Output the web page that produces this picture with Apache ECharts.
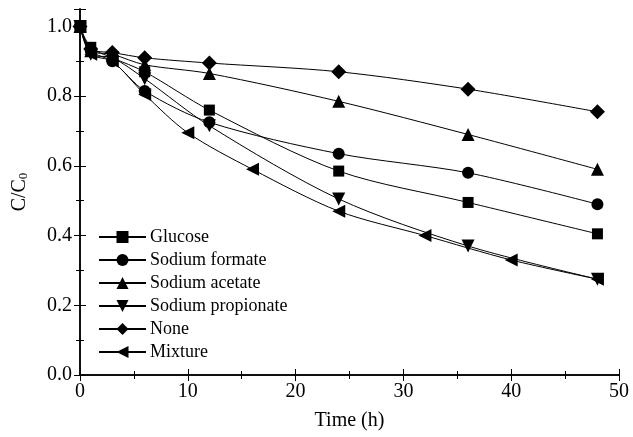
<!DOCTYPE html>
<html><head><meta charset="utf-8">
<script src="https://cdn.jsdelivr.net/npm/echarts@6/dist/echarts.min.js"></script>
<style>html,body{margin:0;padding:0;background:#fff}#c{width:633px;height:437px}</style>
</head><body><div id="c"></div>
<script>
const seriesNames = ['Glucose','Sodium formate','Sodium acetate','Sodium propionate','None','Mixture'];
const timeStd = [0,1,3,6,12,24,36,48];
const timeMix = [0,1,3,6,10,16,24,32,40,48];
const glucose = [1.0,0.94,0.91,0.87,0.76,0.585,0.495,0.405];
const formate = [1.0,0.93,0.90,0.815,0.725,0.635,0.58,0.49];
const acetate = [1.0,0.93,0.92,0.89,0.865,0.785,0.69,0.59];
const propionate = [1.0,0.92,0.91,0.85,0.715,0.505,0.37,0.275];
const none = [1.0,0.935,0.925,0.91,0.895,0.87,0.82,0.755];
const mixture = [1.0,0.92,0.90,0.805,0.695,0.59,0.47,0.40,0.33,0.275];
const xTicks = [0,10,20,30,40,50];
const yTicks = ['0.0','0.2','0.4','0.6','0.8','1.0'];

const symbols = ['rect','circle','triangle','path://M0,0 L10,0 L5,10 Z','diamond','path://M10,0 L10,10 L0,5 Z'];
const sizes = [11,12,13,13,15,13];
const vals = [glucose,formate,acetate,propionate,none,mixture];
const times = [timeStd,timeStd,timeStd,timeStd,timeStd,timeMix];
const font = 'Liberation Serif';

const series = seriesNames.map((n,i)=>({
  name:n, type:'line', smooth:0.3,
  data: vals[i].map((v,j)=>[times[i][j], v]),
  symbol: symbols[i], symbolSize: sizes[i], showSymbol:true,
  lineStyle:{color:'#000',width:1}, itemStyle:{color:'#000'},
  xAxisIndex:0, yAxisIndex:0, z: 2
}));

const chart = echarts.init(document.getElementById('c'),null,{renderer:'canvas'});
chart.setOption({
  animation:false,
  backgroundColor:'#fff',
  grid:{left:80,right:14,top:9,bottom:62,containLabel:false},
  legend:{
    orient:'vertical', left:93, top:223, itemWidth:47, itemHeight:15, itemGap:5,
    textStyle:{fontFamily:font,fontSize:18,lineHeight:18,color:'#000',padding:[0,0,0,-1]},
    data: seriesNames
  },
  xAxis:[{
    type:'value', min:0, max:50, interval:10,
    name:'Time (h)', nameLocation:'middle', nameGap:36,
    nameTextStyle:{fontFamily:font,fontSize:20,color:'#000'},
    axisLine:{lineStyle:{color:'#000',width:1.5}},
    axisTick:{inside:true,length:6,lineStyle:{color:'#000'}},
    minorTick:{show:true,splitNumber:2,length:4,lineStyle:{color:'#000'}},
    axisLabel:{fontFamily:font,fontSize:20,color:'#000',margin:7,formatter:v=>xTicks.includes(v)?String(v):''},
    splitLine:{show:false}
  },{
    type:'value', min:0, max:50, interval:10, position:'top',
    axisLine:{lineStyle:{color:'#000',width:1.5}},
    axisTick:{inside:true,length:6,lineStyle:{color:'#000'}},
    minorTick:{show:true,splitNumber:2,length:4,lineStyle:{color:'#000'}},
    axisLabel:{show:false}, splitLine:{show:false}
  }],
  yAxis:[{
    type:'value', min:0, max:1.05, interval:0.2,
    name:'C/C{s|0}', nameLocation:'middle', nameGap:50, nameRotate:90,
    nameTextStyle:{fontFamily:font,fontSize:20,color:'#000',
      rich:{s:{fontFamily:font,fontSize:13,color:'#000',verticalAlign:'bottom',padding:[8,0,0,0]}}},
    axisLine:{lineStyle:{color:'#000',width:1.5}},
    axisTick:{inside:true,length:6,lineStyle:{color:'#000'}},
    minorTick:{show:true,splitNumber:2,length:4,lineStyle:{color:'#000'}},
    axisLabel:{fontFamily:font,fontSize:20,color:'#000',margin:8,
      formatter:v=>{const s=v.toFixed(1); return (Math.abs(v*5-Math.round(v*5))<1e-6 && yTicks.includes(s))?s:'';}},
    splitLine:{show:false}
  },{
    type:'value', min:0, max:1.05, interval:0.2, position:'right',
    axisLine:{show:true,lineStyle:{color:'#000',width:1.5}},
    axisTick:{show:true,inside:true,length:6,lineStyle:{color:'#000'}},
    minorTick:{show:true,splitNumber:2,length:4,lineStyle:{color:'#000'}},
    axisLabel:{show:false}, splitLine:{show:false}
  }],
  series: series
});
</script></body></html>
